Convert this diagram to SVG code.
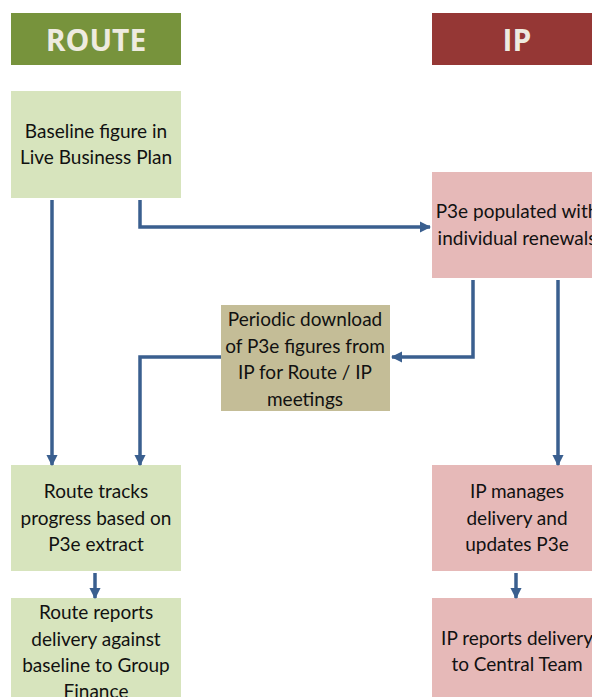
<svg xmlns="http://www.w3.org/2000/svg" width="592" height="697" viewBox="0 0 592 697">
  <style>
    .hdr { font-family: "Open Sans", "Liberation Sans", sans-serif; font-weight: bold; font-size: 30px; fill: #EEEBE0; text-anchor: middle; }
    .lbl { font-family: Lato, "Liberation Sans", sans-serif; font-size: 19px; fill: #111111; text-anchor: middle; }
    .route { fill: #D7E4BD; }
    .ip { fill: #E6B9B8; }
    .mid { fill: #C4BD97; }
    .conn { fill: none; stroke: #3A5F8F; stroke-width: 3.5; }
  </style>
  <defs>
    <marker id="arrow" viewBox="0 0 10 10" refX="9" refY="5" markerWidth="3.2" markerHeight="3.2" orient="auto" markerUnits="strokeWidth">
      <path d="M0,0 L10,5 L0,10 z" fill="#3A5F8F"/>
    </marker>
  </defs>

  <g id="header-route">
    <rect x="11" y="13" width="170" height="52" fill="#77933C"/>
    <text class="hdr" x="96" y="51">ROUTE</text>
  </g>
  <g id="header-ip">
    <rect x="432" y="13" width="170" height="52" fill="#953735"/>
    <text class="hdr" x="517" y="51">IP</text>
  </g>

  <g id="baseline">
    <rect class="route" x="11" y="91" width="170" height="107"/>
    <text class="lbl" x="96" y="138">Baseline figure in</text>
    <text class="lbl" x="96" y="164">Live Business Plan</text>
  </g>

  <g id="p3e-populated">
    <rect class="ip" x="432" y="172" width="170" height="106"/>
    <text class="lbl" x="517" y="218">P3e populated with</text>
    <text class="lbl" x="517" y="245">individual renewals</text>
  </g>

  <g id="periodic-download">
    <rect class="mid" x="221" y="305" width="169" height="106"/>
    <text class="lbl" x="305" y="326">Periodic download</text>
    <text class="lbl" x="305" y="353">of P3e figures from</text>
    <text class="lbl" x="305" y="379">IP for Route / IP</text>
    <text class="lbl" x="305" y="406">meetings</text>
  </g>

  <g id="route-tracks">
    <rect class="route" x="11" y="465" width="170" height="106"/>
    <text class="lbl" x="96" y="498">Route tracks</text>
    <text class="lbl" x="96" y="525">progress based on</text>
    <text class="lbl" x="96" y="551">P3e extract</text>
  </g>

  <g id="ip-manages">
    <rect class="ip" x="432" y="465" width="170" height="106"/>
    <text class="lbl" x="517" y="498">IP manages</text>
    <text class="lbl" x="517" y="525">delivery and</text>
    <text class="lbl" x="517" y="551">updates P3e</text>
  </g>

  <g id="route-reports">
    <rect class="route" x="11" y="598" width="170" height="106"/>
    <text class="lbl" x="96" y="619">Route reports</text>
    <text class="lbl" x="96" y="646">delivery against</text>
    <text class="lbl" x="96" y="672">baseline to Group</text>
    <text class="lbl" x="96" y="698">Finance</text>
  </g>

  <g id="ip-reports">
    <rect class="ip" x="432" y="598" width="170" height="106"/>
    <text class="lbl" x="517" y="645">IP reports delivery</text>
    <text class="lbl" x="517" y="671">to Central Team</text>
  </g>

  <g id="connectors">
    <path class="conn" d="M52,200 V465" marker-end="url(#arrow)"/>
    <path class="conn" d="M140,200 V227 H430" marker-end="url(#arrow)"/>
    <path class="conn" d="M473,280 V357 H392" marker-end="url(#arrow)"/>
    <path class="conn" d="M221,357 H140 V465" marker-end="url(#arrow)"/>
    <path class="conn" d="M558,280 V465" marker-end="url(#arrow)"/>
    <path class="conn" d="M95,573 V598" marker-end="url(#arrow)"/>
    <path class="conn" d="M516,573 V598" marker-end="url(#arrow)"/>
  </g>
</svg>
